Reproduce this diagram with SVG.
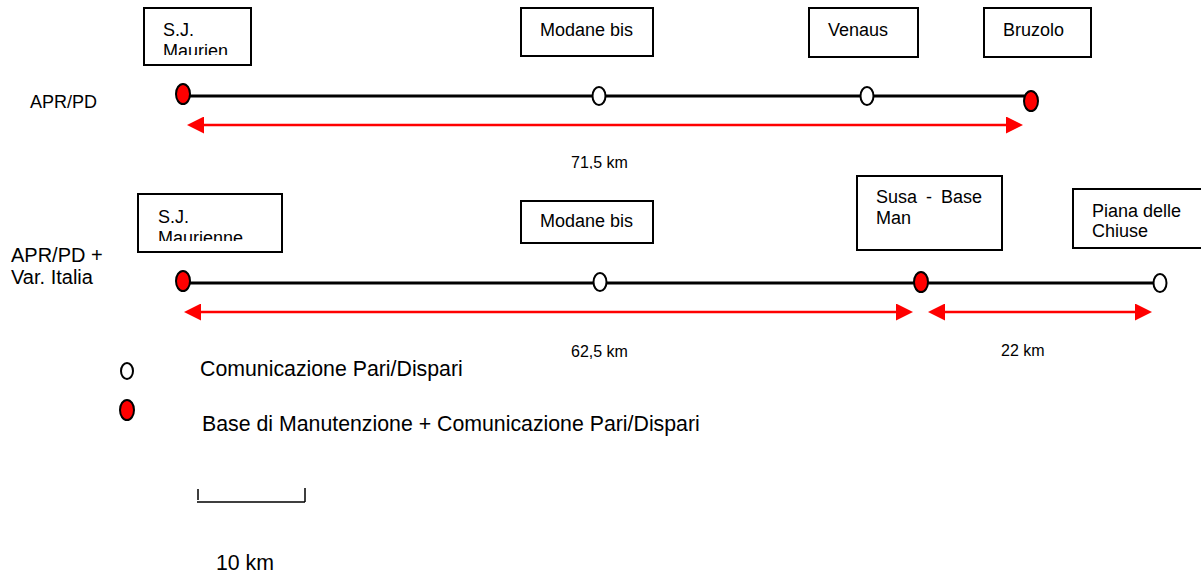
<svg xmlns="http://www.w3.org/2000/svg" width="1201" height="574" viewBox="0 0 1201 574">
  <style>
    text { font-family: "Liberation Sans", Arial, sans-serif; fill: #000; }
    .lbl { font-size: 18px; }
    .leg { font-size: 21.3px; }
    .km { font-size: 16px; }
    .box { fill: #fff; stroke: #000; stroke-width: 2; }
    .track { stroke: #000; stroke-width: 3; fill: none; }
    .dim { stroke: #f00; stroke-width: 2.5; fill: none; marker-start: url(#head); marker-end: url(#head); }
    .comm { fill: #fff; stroke: #000; stroke-width: 2; }
    .base { fill: #f00; stroke: #000; stroke-width: 2; }
  </style>
  <defs>
    <marker id="head" markerUnits="userSpaceOnUse" markerWidth="17" markerHeight="17" refX="0" refY="8.5" orient="auto-start-reverse" viewBox="0 0 17 17">
      <path d="M0,0 L17,8.5 L0,17 z" fill="#f00"/>
    </marker>
    <clipPath id="clipMaur1"><rect x="140" y="0" width="120" height="55"/></clipPath>
    <clipPath id="clipMaur2"><rect x="130" y="190" width="160" height="51"/></clipPath>
    <clipPath id="clipKm1"><rect x="540" y="140" width="120" height="29"/></clipPath>
  </defs>

  <!-- row labels -->
  <g id="row-labels">
    <text class="lbl" x="30" y="108">APR/PD</text>
    <text x="11" y="262" font-size="20">APR/PD +</text>
    <text x="11" y="284" font-size="20">Var. Italia</text>
  </g>

  <!-- connectors: tracks and distance arrows -->
  <g id="connectors">
    <line class="track" x1="183" y1="96" x2="1031" y2="96"/>
    <line class="track" x1="183" y1="283" x2="1160" y2="283"/>
    <line class="dim" x1="204" y1="125" x2="1006" y2="125"/>
    <line class="dim" x1="201" y1="312" x2="896" y2="312"/>
    <line class="dim" x1="945" y1="312" x2="1135" y2="312"/>
  </g>

  <!-- row 1: APR/PD -->
  <g id="sjm1">
    <rect class="box" x="144" y="8" width="107" height="57"/>
    <g clip-path="url(#clipMaur1)">
      <text class="lbl" x="163" y="36">S.J.</text>
      <text class="lbl" x="163" y="57">Maurien</text>
    </g>
    <ellipse class="base" cx="183" cy="94" rx="7" ry="10"/>
  </g>
  <g id="modane1">
    <rect class="box" x="521" y="8" width="132" height="48"/>
    <text class="lbl" x="540" y="36">Modane bis</text>
    <ellipse class="comm" cx="599" cy="96" rx="6.5" ry="9"/>
  </g>
  <g id="venaus">
    <rect class="box" x="809" y="8" width="109" height="49"/>
    <text class="lbl" x="828" y="36">Venaus</text>
    <ellipse class="comm" cx="867" cy="96" rx="6.5" ry="9"/>
  </g>
  <g id="bruzolo">
    <rect class="box" x="984" y="8" width="107" height="49"/>
    <text class="lbl" x="1003" y="36">Bruzolo</text>
    <ellipse class="base" cx="1031" cy="101" rx="7" ry="10"/>
  </g>
  <g id="dist1">
    <text class="km" x="571" y="168" clip-path="url(#clipKm1)">71,5 km</text>
  </g>

  <!-- row 2: APR/PD + Var. Italia -->
  <g id="sjm2">
    <rect class="box" x="138" y="194" width="144" height="58"/>
    <g clip-path="url(#clipMaur2)">
      <text class="lbl" x="158" y="223">S.J.</text>
      <text class="lbl" x="158" y="244">Maurienne</text>
    </g>
    <ellipse class="base" cx="183" cy="281" rx="7" ry="10"/>
  </g>
  <g id="modane2">
    <rect class="box" x="521" y="201" width="132" height="42"/>
    <text class="lbl" x="540" y="227">Modane bis</text>
    <ellipse class="comm" cx="600" cy="282" rx="6.5" ry="9"/>
  </g>
  <g id="susa">
    <rect class="box" x="857" y="176" width="145" height="74"/>
    <text class="lbl" y="203"><tspan x="876">Susa</tspan><tspan x="926">-</tspan><tspan x="941">Base</tspan></text>
    <text class="lbl" x="876" y="224">Man</text>
    <ellipse class="base" cx="921" cy="282" rx="7" ry="10"/>
  </g>
  <g id="piana">
    <rect class="box" x="1073" y="189" width="130" height="59"/>
    <text class="lbl" x="1092" y="217">Piana delle</text>
    <text class="lbl" x="1092" y="237">Chiuse</text>
    <ellipse class="comm" cx="1160" cy="283" rx="6.5" ry="9"/>
  </g>
  <g id="dist2">
    <text class="km" x="571" y="357">62,5 km</text>
    <text class="km" x="1001" y="356">22 km</text>
  </g>

  <!-- legend -->
  <g id="legend">
    <ellipse class="comm" cx="127" cy="371" rx="6" ry="8"/>
    <text class="leg" x="200" y="376">Comunicazione Pari/Dispari</text>
    <ellipse class="base" cx="127" cy="410" rx="7" ry="10"/>
    <text class="leg" x="202" y="431">Base di Manutenzione + Comunicazione Pari/Dispari</text>
  </g>

  <!-- scale bar -->
  <g id="scale-bar">
    <path d="M198,489 V500 M197,502 H305 M305,488 V502" stroke="#000" stroke-width="1.5" fill="none"/>
    <text class="leg" x="216" y="570">10 km</text>
  </g>
</svg>
